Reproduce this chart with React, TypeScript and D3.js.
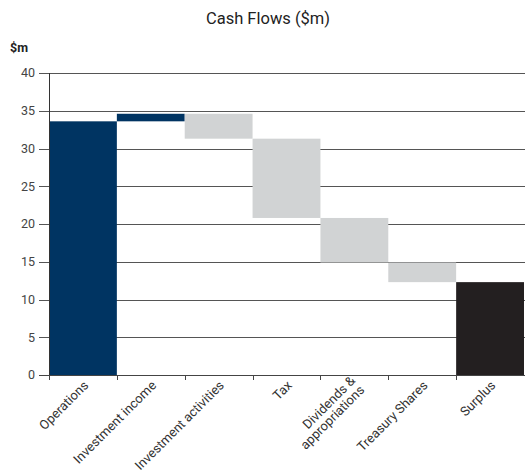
import React from "react";
import * as d3 from "d3";

const categories = [
  "Operations",
  "Investment income",
  "Investment activities",
  "Tax",
  "Dividends & appropriations",
  "Treasury Shares",
  "Surplus",
];
const labelLines = [
  ["Operations"],
  ["Investment income"],
  ["Investment activities"],
  ["Tax"],
  ["Dividends &", "appropriations"],
  ["Treasury Shares"],
  ["Surplus"],
];
const deltas = [33.6, 1.0, -3.3, -10.5, -5.9, -2.6, 12.3];
const kinds = ["total", "increase", "decrease", "decrease", "decrease", "decrease", "result"];
const yTicks = [0, 5, 10, 15, 20, 25, 30, 35, 40];

const colors: Record<string, string> = {
  total: "#003462",
  increase: "#003462",
  decrease: "#d1d3d4",
  result: "#231f20",
};

const W = 525;
const H = 470;
const m = { left: 49, right: 1, top: 73, bottom: 95 };

export default function App() {
  const x = d3
    .scaleBand<string>()
    .domain(categories)
    .range([m.left, W - m.right])
    .paddingInner(0)
    .paddingOuter(0);
  const y = d3.scaleLinear().domain([0, 40]).range([H - m.bottom, m.top]);

  let running = 0;
  const bars = categories.map((c, i) => {
    let y0: number, y1: number;
    if (kinds[i] === "total" || kinds[i] === "result") {
      y0 = 0;
      y1 = deltas[i];
      running = deltas[i];
    } else {
      y0 = running;
      y1 = running + deltas[i];
      running = y1;
    }
    return { c, y0, y1, kind: kinds[i] };
  });

  const font = "Roboto, 'DejaVu Sans', sans-serif";
  const bw = x.bandwidth();

  return (
    <svg
      width={W}
      height={H}
      style={{ position: "absolute", left: 0, top: 0, background: "#fff" }}
      fontFamily={font}
    >
      <text x={268} y={24} textAnchor="middle" fontSize={16.5} fill="#222">
        Cash Flows ($m)
      </text>
      <text x={10} y={52} fontSize={12.5} fontWeight="bold" fill="#222">
        $m
      </text>

      {/* gridlines and y ticks */}
      {yTicks.map((t) => (
        <g key={t}>
          <line
            x1={39}
            x2={W}
            y1={Math.round(y(t)) + 0.5}
            y2={Math.round(y(t)) + 0.5}
            stroke="#555"
            strokeWidth={1}
          />
          <text
            x={35}
            y={y(t)}
            dy="0.35em"
            textAnchor="end"
            fontSize={12.5}
            fill="#444"
          >
            {t}
          </text>
        </g>
      ))}

      {/* bars */}
      {bars.map((b) => (
        <rect
          key={b.c}
          x={x(b.c)}
          width={bw}
          y={y(Math.max(b.y0, b.y1))}
          height={Math.abs(y(b.y0) - y(b.y1))}
          fill={colors[b.kind]}
        />
      ))}

      {/* y axis line */}
      <line x1={49.5} x2={49.5} y1={y(40)} y2={y(0) + 5} stroke="#333" strokeWidth={1} />
      {/* x axis line */}
      <line x1={39} x2={W} y1={Math.round(y(0)) + 0.5} y2={Math.round(y(0)) + 0.5} stroke="#444" />
      {/* x ticks at band boundaries */}
      {categories.map((c) => (
        <line
          key={c}
          x1={Math.round(x(c)!) + 0.5}
          x2={Math.round(x(c)!) + 0.5}
          y1={y(0)}
          y2={y(0) + 5}
          stroke="#444"
        />
      ))}

      {/* x labels */}
      {categories.map((c, i) => {
        const cx = x(c)! + bw / 2 + 3;
        const cy = y(0) + 8;
        const lines = labelLines[i];
        const n = lines.length;
        return (
          <text
            key={c}
            transform={`translate(${cx},${cy}) rotate(-45)`}
            textAnchor="end"
            fontSize={13}
            fill="#333"
          >
            {lines.map((l, j) => (
              <tspan key={j} x={0} y={(j - (n - 1) / 2) * 13} dy="0.35em">
                {l}
              </tspan>
            ))}
          </text>
        );
      })}
    </svg>
  );
}
